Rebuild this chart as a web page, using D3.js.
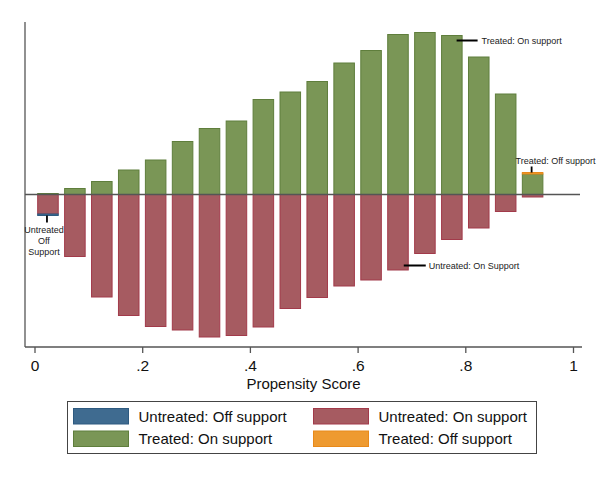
<!DOCTYPE html>
<html>
<head>
<meta charset="utf-8">
<script src="https://cdn.jsdelivr.net/npm/d3@7/dist/d3.min.js"></script>
<style>
  html, body { margin: 0; padding: 0; background: #fff; }
  svg { display: block; font-family: Arial, "Liberation Sans", sans-serif; }
</style>
</head>
<body>
<svg id="chart" width="600" height="482"></svg>
<script>
// ---- data (propensity-score bins of width 0.05) ----
const binStarts = [0, 0.05, 0.10, 0.15, 0.20, 0.25, 0.30, 0.35, 0.40, 0.45,
                   0.50, 0.55, 0.60, 0.65, 0.70, 0.75, 0.80, 0.85, 0.90];
const binWidth = 0.05;
const treatedOn    = [1, 6, 13, 24.5, 34.5, 53, 66, 73.5, 95, 102.5,
                      113, 131.5, 144, 160, 162, 159, 137.5, 100.5, 20.5];
const treatedOff   = [0, 0, 0, 0, 0, 0, 0, 0, 0, 0,
                      0, 0, 0, 0, 0, 0, 0, 0, 1.5];
const untreatedOn  = [19.5, 62, 102.5, 121, 132, 135.5, 142.5, 141, 132.5, 114,
                      103, 91.5, 85.5, 75.5, 59, 45, 33.5, 17, 2.5];
const untreatedOff = [1.5, 0, 0, 0, 0, 0, 0, 0, 0, 0,
                      0, 0, 0, 0, 0, 0, 0, 0, 0];
const tickValues = [0, 0.2, 0.4, 0.6, 0.8, 1];
const tickLabels = ["0", ".2", ".4", ".6", ".8", "1"];
const xTitle = "Propensity Score";
const legendItems = [
  {label: "Untreated: Off support", key: "uoff"},
  {label: "Untreated: On support",  key: "uon"},
  {label: "Treated: On support",    key: "ton"},
  {label: "Treated: Off support",   key: "toff"}
];
const colors = {
  uoff: {fill: "#3f6b90", stroke: "#2e5a80"},
  uon:  {fill: "#a65b61", stroke: "#a23a4a"},
  ton:  {fill: "#7a9656", stroke: "#5f7e3c"},
  toff: {fill: "#ee9a30", stroke: "#e8891a"}
};

// ---- scales ----
const svg = d3.select("#chart");
const x = d3.scaleLinear().domain([0, 1]).range([34.5, 573]);
const y = d3.scaleLinear().domain([-152.5, 172.5]).range([347, 22]);
const plotLeft = 25, plotRight = 582;
const gap = binWidth * 0.1;

// ---- bars ----
const rows = binStarts.map((b, i) => ({
  b,
  segs: [
    {key: "ton",  y0: 0, y1: treatedOn[i]},
    {key: "toff", y0: treatedOn[i], y1: treatedOn[i] + treatedOff[i]},
    {key: "uon",  y0: 0, y1: -untreatedOn[i]},
    {key: "uoff", y0: -untreatedOn[i], y1: -untreatedOn[i] - untreatedOff[i]}
  ].filter(s => s.y1 !== s.y0)
}));

const barsG = svg.append("g");
rows.forEach(r => {
  r.segs.forEach(s => {
    const top = y(Math.max(s.y0, s.y1));
    const bot = y(Math.min(s.y0, s.y1));
    barsG.append("rect")
      .attr("x", x(r.b + gap) + 0.5)
      .attr("width", x(r.b + binWidth - gap) - x(r.b + gap) - 1)
      .attr("y", top)
      .attr("height", Math.max(0.8, bot - top))
      .attr("fill", colors[s.key].fill)
      .attr("stroke", colors[s.key].stroke)
      .attr("stroke-width", 1);
  });
});

// zero line
svg.append("line")
  .attr("x1", plotLeft).attr("x2", 580)
  .attr("y1", y(0)).attr("y2", y(0))
  .attr("stroke", "#555").attr("stroke-width", 1.3);

// ---- axes ----
svg.append("line")
  .attr("x1", plotLeft).attr("x2", plotLeft)
  .attr("y1", y.range()[1]).attr("y2", y.range()[0])
  .attr("stroke", "#555").attr("stroke-width", 1.3);

const xAxis = d3.axisBottom(x)
  .tickValues(tickValues)
  .tickFormat((d, i) => tickLabels[i])
  .tickSize(6).tickPadding(7);
const xg = svg.append("g")
  .attr("transform", `translate(0,${y.range()[0]})`)
  .call(xAxis);
xg.select(".domain").remove();
xg.selectAll(".tick line").attr("stroke", "#555").attr("stroke-width", 1.3);
xg.selectAll(".tick text").attr("fill", "#111").attr("font-size", 15.5)
  .attr("font-family", "Arial, 'Liberation Sans', sans-serif");
svg.append("line")
  .attr("x1", plotLeft).attr("x2", plotRight)
  .attr("y1", y.range()[0]).attr("y2", y.range()[0])
  .attr("stroke", "#555").attr("stroke-width", 1.3);

svg.append("text")
  .attr("x", (plotLeft + plotRight) / 2)
  .attr("y", 389)
  .attr("text-anchor", "middle")
  .attr("font-size", 15).attr("fill", "#111")
  .text(xTitle);

// ---- annotations ----
const ann = svg.append("g").attr("font-size", 9).attr("fill", "#222");
const lastBin = binStarts.length - 1;
// Treated: On support (bin 15)
{
  const b = binStarts[15];
  const xr = x(b + binWidth - gap);
  const yy = y(treatedOn[15]) + 5;
  ann.append("line").attr("x1", xr - 6).attr("x2", xr + 15).attr("y1", yy).attr("y2", yy)
    .attr("stroke", "#000").attr("stroke-width", 2);
  ann.append("text").attr("x", xr + 19).attr("y", yy + 3).text("Treated: On support");
}
// Untreated: On Support (bin 13)
{
  const b = binStarts[13];
  const xr = x(b + binWidth - gap);
  const yy = y(-untreatedOn[13]) - 4.5;
  ann.append("line").attr("x1", xr - 5).attr("x2", xr + 17).attr("y1", yy).attr("y2", yy)
    .attr("stroke", "#000").attr("stroke-width", 2);
  ann.append("text").attr("x", xr + 20).attr("y", yy + 3).text("Untreated: On Support");
}
// Treated: Off support (last bin)
{
  const b = binStarts[lastBin];
  const xc = x(b + binWidth / 2) - 1;
  const yt = y(treatedOn[lastBin] + treatedOff[lastBin]);
  ann.append("line").attr("x1", xc).attr("x2", xc).attr("y1", yt - 6).attr("y2", yt)
    .attr("stroke", "#000").attr("stroke-width", 1.8);
  ann.append("text").attr("x", xc + 24).attr("y", yt - 9).attr("text-anchor", "middle")
    .text("Treated: Off support");
}
// Untreated Off Support (first bin)
{
  const b = binStarts[0];
  const xc = x(b + binWidth / 2) - 1;
  const yb = y(-untreatedOn[0] - untreatedOff[0]);
  ann.append("line").attr("x1", xc).attr("x2", xc).attr("y1", yb).attr("y2", yb + 7)
    .attr("stroke", "#000").attr("stroke-width", 1.8);
  const t = ann.append("text").attr("text-anchor", "middle");
  ["Untreated", "Off", "Support"].forEach((s, i) => {
    t.append("tspan").attr("x", xc - 3).attr("y", yb + 17 + i * 11).text(s);
  });
}

// ---- legend ----
const lg = svg.append("g");
lg.append("rect").attr("x", 67.5).attr("y", 401.5).attr("width", 469).attr("height", 52)
  .attr("fill", "#fff").attr("stroke", "#444").attr("stroke-width", 1);
legendItems.forEach((d, i) => {
  const col = i % 2, row = Math.floor(i / 2);
  const sx = col === 0 ? 73.5 : 313.5;
  const sy = 408.5 + row * 22.5;
  lg.append("rect").attr("x", sx).attr("y", sy).attr("width", 55).attr("height", 15.5)
    .attr("fill", colors[d.key].fill).attr("stroke", colors[d.key].stroke).attr("stroke-width", 1);
  lg.append("text").attr("x", sx + 65).attr("y", sy + 13)
    .attr("font-size", 15).attr("fill", "#111").text(d.label);
});
</script>
</body>
</html>
